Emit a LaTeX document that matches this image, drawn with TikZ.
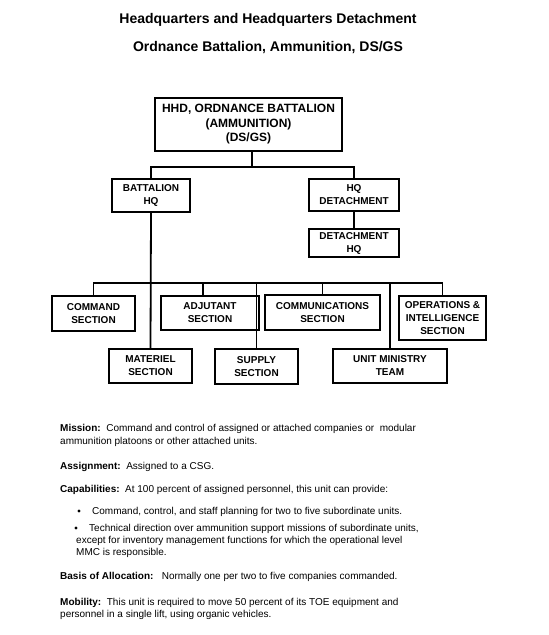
\documentclass[tikz,border=0pt]{standalone}
\usepackage{fontspec}
\setmainfont{Liberation Sans}
\begin{document}
\begin{tikzpicture}[x=1pt,y=-1pt,
  box/.style={draw, line width=1.8pt, inner sep=0pt, align=center,
    font=\bfseries\fontsize{10}{13}\selectfont},
  conn/.style={line width=1.8pt, line cap=rect},
  body/.style={anchor=base west, inner sep=0pt, font=\fontsize{10}{11}\selectfont},
  ttl/.style={anchor=base, inner sep=0pt, font=\bfseries\fontsize{14}{16}\selectfont},
  bul/.style={fill, circle, inner sep=0pt, minimum size=3.4pt}]
\useasboundingbox (0,0) rectangle (549,635);
\fill[white] (0,0) rectangle (549,635);
% titles
\node[ttl] (t1) at (268,23) {Headquarters and Headquarters Detachment};
\node[ttl] (t2) at (268,51) {Ordnance Battalion, Ammunition, DS/GS};
% boxes
\node[box, minimum width=187pt, minimum height=53pt,
  font=\bfseries\fontsize{12}{14.5}\selectfont] (top) at (248.5,124.5)
  {HHD, ORDNANCE BATTALION\\(AMMUNITION)\\(DS/GS)};
\node[box, minimum width=78pt, minimum height=33pt] (bhq) at (151,195.5) {BATTALION\\HQ};
\node[box, minimum width=90pt, minimum height=32pt] (hqd) at (354,195) {HQ\\DETACHMENT};
\node[box, minimum width=90pt, minimum height=28pt] (dhq) at (354,243) {DETACHMENT\\HQ};
\node[box, minimum width=83pt, minimum height=35pt] (cmd) at (93.5,313.5) {COMMAND\\SECTION};
\node[box, minimum width=98pt, minimum height=34pt] (adj) at (210,313) {ADJUTANT\\SECTION};
\node[box, minimum width=83pt, minimum height=34pt] (mat) at (150.5,366) {MATERIEL\\SECTION};
\node[box, minimum width=83pt, minimum height=35pt] (sup) at (256.5,366.5) {SUPPLY\\SECTION};
\node[box, minimum width=115pt, minimum height=35pt] (com) at (322.5,312.5) {COMMUNICATIONS\\SECTION};
\node[box, minimum width=114pt, minimum height=34pt] (umt) at (390,366) {UNIT MINISTRY\\TEAM};
\node[box, minimum width=87pt, minimum height=44pt] (ops) at (442.5,318) {OPERATIONS \&\\INTELLIGENCE\\SECTION};
% connectors
\coordinate (j1) at (252,167);
\coordinate (b2) at (0,283);
\coordinate (adjx) at (203,0);
\draw[conn] (top.south -| j1) -- (j1);
\draw[conn] (bhq.north) |- (j1) -| (hqd.north);
\draw[conn] (hqd.south) -- (dhq.north);
\draw[conn] (bhq.south) -- (mat.north);
\draw[conn] (cmd.north) |- (b2 -| ops.north) -- (ops.north);
\draw[conn] (adj.north -| adjx) -- (b2 -| adjx);
\draw[conn] (sup.north) -- (sup.north |- b2);
\draw[conn] (com.north) -- (com.north |- b2);
\draw[conn] (umt.north) -- (umt.north |- b2);
% text
\node[body] (m1) at (60,431) {\textbf{Mission:}\ \ Command and control of assigned or attached companies or\ \ modular};
\node[body] (m2) at (60,444) {ammunition platoons or other attached units.};
\node[body] (as) at (60,469) {\textbf{Assignment:}\ \ Assigned to a CSG.};
\node[body] (ca) at (60,492) {\textbf{Capabilities:}\ \ At 100 percent of assigned personnel, this unit can provide:};
\node[bul] (b1) at (79,511) {};
\node[body] (c1) at (92,514) {Command, control, and staff planning for two to five subordinate units.};
\node[bul] (b2d) at (76,528) {};
\node[body] (c2) at (89,531) {Technical direction over ammunition support missions of subordinate units,};
\node[body] (c3) at (76,543) {except for inventory management functions for which the operational level};
\node[body] (c4) at (76,555) {MMC is responsible.};
\node[body] (ba) at (60,579) {\textbf{Basis of Allocation:}\ \ \ Normally one per two to five companies commanded.};
\node[body] (mo1) at (60,605) {\textbf{Mobility:}\ \ This unit is required to move 50 percent of its TOE equipment and};
\node[body] (mo2) at (60,617) {personnel in a single lift, using organic vehicles.};
\end{tikzpicture}
\end{document}
